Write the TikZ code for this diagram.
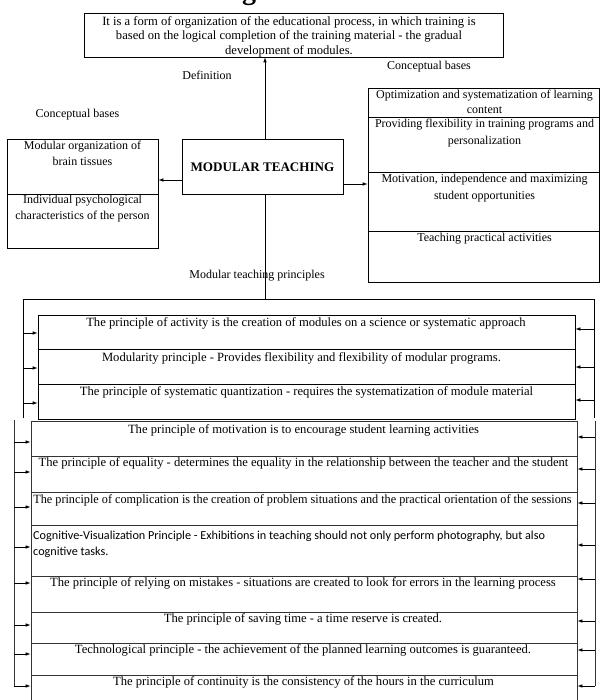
\documentclass[tikz,border=0pt]{standalone}
\usepackage{fontspec}
\setmainfont{Liberation Serif}
\newfontfamily\calfont{Carlito}
\usetikzlibrary{arrows.meta}
\begin{document}
\begin{tikzpicture}[x=1pt,y=-1pt,
  bx/.style={draw=black, line width=0.7pt, inner sep=0pt},
  gbx/.style={draw=black!80, line width=0.8pt, inner sep=0pt},
  tx/.style={font=\fontsize{12}{14}\selectfont, inner sep=0pt, anchor=base},
  lt/.style={tx, font=\fontsize{12.6}{14}\selectfont},
  arr/.style={-{Latex[length=5pt,width=3.6pt]}, line width=0.7pt},
  ln/.style={line width=0.7pt}]
\useasboundingbox (0,0) rectangle (600,700);

% title fragment (cropped)
\node[font=\bfseries\fontsize{28}{28}\selectfont, inner sep=0pt, anchor=base] (ttl) at (249,0) {g};

% definition box
\node[bx, minimum width=419pt, minimum height=44pt] (def) at (293.5,35) {};
\node[lt] (d1) at (289,26) {It is a form of organization of the educational process, in which training is};
\node[lt] (d2) at (289,40) {based on the logical completion of the training material - the gradual};
\node[lt] (d3) at (289,55) {development of modules.};

\node[tx] (ldef) at (207,80) {Definition};
\node[tx] (lcr) at (429,70) {Conceptual bases};
\node[tx] (lcl) at (77.5,118) {Conceptual bases};

% central box
\node[bx, minimum width=161pt, minimum height=55pt] (mt) at (262.5,166.5) {};
\node[tx, font=\bfseries\fontsize{13.1}{14}\selectfont] (mtt) at (262.5,172) {MODULAR TEACHING};

% left boxes
\node[bx, minimum width=151pt, minimum height=55pt] (lb1) at (82.5,166.5) {};
\node[bx, minimum width=151pt, minimum height=54pt] (lb2) at (82.5,221) {};
\node[tx] (lt1) at (82.5,150) {Modular organization of};
\node[tx] (lt2) at (82.5,166) {brain tissues};
\node[tx] (lt3) at (82.5,204) {Individual psychological};
\node[tx] (lt4) at (82.5,220) {characteristics of the person};

% right boxes
\node[bx, minimum width=231pt, minimum height=29pt] (rb1) at (483.5,102.5) {};
\node[bx, minimum width=231pt, minimum height=55pt] (rb2) at (483.5,144.5) {};
\node[bx, minimum width=231pt, minimum height=59pt] (rb3) at (483.5,201.5) {};
\node[bx, minimum width=231pt, minimum height=51pt] (rb4) at (483.5,256.5) {};
\node[tx] (rt1) at (484.5,99) {Optimization and systematization of learning};
\node[tx] (rt2) at (484.5,114) {content};
\node[tx] (rt3) at (484.5,128) {Providing flexibility in training programs and};
\node[tx] (rt4) at (484.5,145) {personalization};
\node[tx] (rt5) at (484.5,183) {Motivation, independence and maximizing};
\node[tx] (rt6) at (484.5,200) {student opportunities};
\node[tx] (rt7) at (484.5,241) {Teaching practical activities};

% connectors of the central box
\draw[arr] (mt.north -| 265,0) -- (def.south -| 265,0);
\draw[arr] (mt.west |- 0,180) -- (lb1.east |- 0,180);
\draw[arr] (mt.east |- 0,184) -- (rb3.west |- 0,184);

\node[tx] (lpr) at (257,278) {Modular teaching principles};

% frame of group 1
\coordinate (ftl) at (23,299);
\coordinate (ftr) at (594,299);
\coordinate (fbl) at (23,418);
\coordinate (fbr) at (594,418);
\draw[ln] (fbl) -- (ftl) -- (ftr) -- (fbr);
\draw[ln] (mt.south -| 265,0) -- (ftl -| 265,0);

% group 1 boxes
\node[bx, minimum width=537pt, minimum height=34pt] (p1) at (306.5,332) {};
\node[bx, minimum width=537pt, minimum height=35pt] (p2) at (306.5,366.5) {};
\node[bx, minimum width=537pt, minimum height=35pt] (p3) at (306.5,401.5) {};
\node[lt] (pt1) at (306,326) {The principle of activity is the creation of modules on a science or systematic approach};
\node[lt] (pt2) at (301.5,361) {Modularity principle - Provides flexibility and flexibility of modular programs.};
\node[lt] (pt3) at (306.5,395) {The principle of systematic quantization - requires the systematization of module material};

\foreach \n/\yl/\yr in {p1/333/329, p2/368/367, p3/403/400}{
  \draw[arr] (ftl |- 0,\yl) -- (\n.west |- 0,\yl);
  \draw[arr] (ftr |- 0,\yr) -- (\n.east |- 0,\yr);
}

% group 2 boxes
\node[gbx, minimum width=546pt, minimum height=35pt] (q1) at (304,438.5) {};
\node[gbx, minimum width=546pt, minimum height=36pt] (q2) at (304,474) {};
\node[gbx, minimum width=546pt, minimum height=33pt] (q3) at (304,508.5) {};
\node[gbx, minimum width=546pt, minimum height=51pt] (q4) at (304,550.5) {};
\node[gbx, minimum width=546pt, minimum height=36pt] (q5) at (304,594) {};
\node[gbx, minimum width=546pt, minimum height=31pt] (q6) at (304,627.5) {};
\node[gbx, minimum width=546pt, minimum height=32pt] (q7) at (304,659) {};
\node[gbx, minimum width=546pt, minimum height=35pt] (q8) at (304,692.5) {};

\node[lt] (qt1) at (303.5,433) {The principle of motivation is to encourage student learning activities};
\node[lt] (qt2) at (303.5,466) {The principle of equality - determines the equality in the relationship between the teacher and the student};
\node[lt] (qt3) at (302.5,503) {\scalebox{0.97}[1]{The principle of complication is the creation of problem situations and the practical orientation of the sessions}};
\node[tx, anchor=base west, font=\calfont\fontsize{12.2}{14}\selectfont] (qt4a) at (33,539) {Cognitive-Visualization Principle - Exhibitions in teaching should not only perform photography, but also};
\node[tx, anchor=base west, font=\calfont\fontsize{12.2}{14}\selectfont] (qt4b) at (33,555) {cognitive tasks.};
\node[lt] (qt5) at (303,586) {The principle of relying on mistakes - situations are created to look for errors in the learning process};
\node[lt] (qt6) at (303,622) {The principle of saving time - a time reserve is created.};
\node[lt] (qt7) at (303,653) {Technological principle - the achievement of the planned learning outcomes is guaranteed.};
\node[lt] (qt8) at (303.5,685) {The principle of continuity is the consistency of the hours in the curriculum};

% group 2 brackets
\coordinate (gtl) at (14,420);
\coordinate (gtr) at (595,421);
\draw[ln, draw=black!80] (gtl) -- (14,686);
\draw[ln, draw=black!80] (gtr) -- (595,686);
\foreach \n/\yl/\yr in {q1/442/437, q2/472/469, q3/507/503, q4/547/545, q5/583/579, q6/625/621, q7/654/650, q8/686/686}{
  \draw[arr] (gtl |- 0,\yl) -- (\n.west |- 0,\yl);
  \draw[arr] (gtr |- 0,\yr) -- (\n.east |- 0,\yr);
}
\end{tikzpicture}
\end{document}
